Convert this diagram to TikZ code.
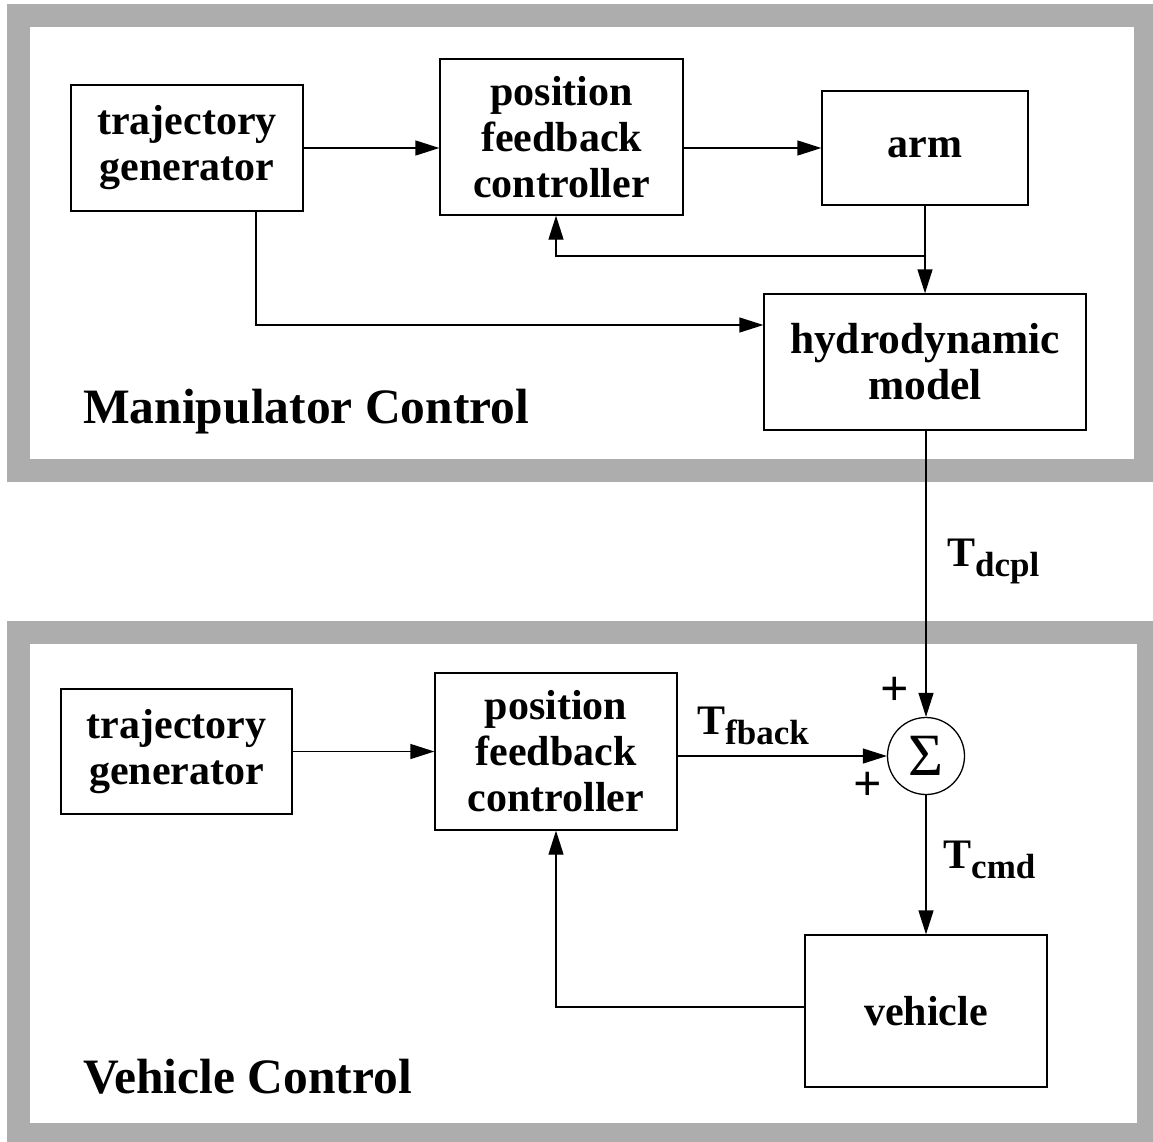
\documentclass[tikz,border=0pt]{standalone}
\usepackage{fontspec}
\setmainfont{Liberation Serif}
\usetikzlibrary{arrows.meta}
\newcommand\subtxt[1]{\raisebox{-10pt}{\fontsize{35}{35}\selectfont #1}}
\begin{document}
\begin{tikzpicture}[x=1pt,y=-1pt,
  frame/.style={draw=black!32,line width=23pt},
  blk/.style={draw,line width=1.3pt,align=center,inner sep=0pt,
    font=\fontsize{42}{46}\selectfont\bfseries},
  lbl/.style={inner sep=0pt,font=\fontsize{42}{45}\selectfont\bfseries},
  ttl/.style={inner sep=0pt,anchor=base west,font=\fontsize{49.5}{50}\selectfont\bfseries},
  sgn/.style={inner sep=0pt,font=\fontsize{50}{50}\selectfont\bfseries},
  conn/.style={line width=1.3pt},
  arr/.style={conn,-{Triangle[length=24pt,width=15pt]}}]
\useasboundingbox (0,0) rectangle (1153,1141);
% frames
\draw[frame] (18.5,15.5) rectangle (1145.5,470);
\draw[frame] (18.5,632.5) rectangle (1148.5,1134.5);
% manipulator control
\node[blk,minimum width=232pt,minimum height=126pt] (tg1) at (187,148) {trajectory\\generator};
\node[blk,minimum width=243pt,minimum height=156pt] (pf1) at (561.5,137) {position\\feedback\\controller};
\node[blk,minimum width=206pt,minimum height=114pt] (arm) at (925,148) {arm};
\node[blk,minimum width=322pt,minimum height=136pt,font=\fontsize{43.5}{46}\selectfont\bfseries] (hm) at (925,362) {hydrodynamic\\model};
\node[ttl] (mc) at (83,423) {Manipulator Control};
\draw[arr] (tg1.east) -- (tg1.east -| pf1.west);
\draw[arr] (pf1.east |- arm.west) -- (arm.west);
\draw[arr] (arm.south) -- (hm.north);
\coordinate (j1) at (925,256);
\coordinate (j1b) at (556,256);
\coordinate (j2) at (256,325);
\draw[arr] (j1) -- (j1b) -- (j1b |- pf1.south);
\draw[arr] (j2 |- tg1.south) -- (j2) -- (j2 -| hm.west);
% vehicle control
\node[blk,minimum width=231pt,minimum height=125pt] (tg2) at (176.5,751.5) {trajectory\\generator};
\node[blk,minimum width=242pt,minimum height=157pt] (pf2) at (556,751.5) {position\\feedback\\controller};
\node[draw,circle,line width=1.3pt,minimum size=77pt,inner sep=0pt,font=\fontsize{60}{60}\selectfont] (sum) at (926,756) {\raisebox{-4pt}{Σ}};
\node[blk,minimum width=242pt,minimum height=152pt] (veh) at (926,1011) {vehicle};
\node[ttl] (vc) at (83,1093) {Vehicle Control};
\draw[arr] (tg2.east) -- (tg2.east -| pf2.west);
\draw[arr] (pf2.east |- sum.west) -- (sum.west);
\draw[arr] (hm.south -| sum.north) -- (sum.north);
\draw[arr] (sum.south) -- (veh.north);
\coordinate (j3) at (556,1007);
\draw[arr] (j3 -| veh.west) -- (j3) -- (j3 |- pf2.south);
% labels
\node[lbl,anchor=base west] (tdcpl) at (947,566) {T\subtxt{dcpl}};
\node[lbl,anchor=base west] (tfback) at (697,734) {T\subtxt{fback}};
\node[lbl,anchor=base west] (tcmd) at (943,868) {T\subtxt{cmd}};
\node[sgn] (p1) at (895,691) {+};
\node[sgn] (p2) at (868,786) {+};
\end{tikzpicture}
\end{document}
